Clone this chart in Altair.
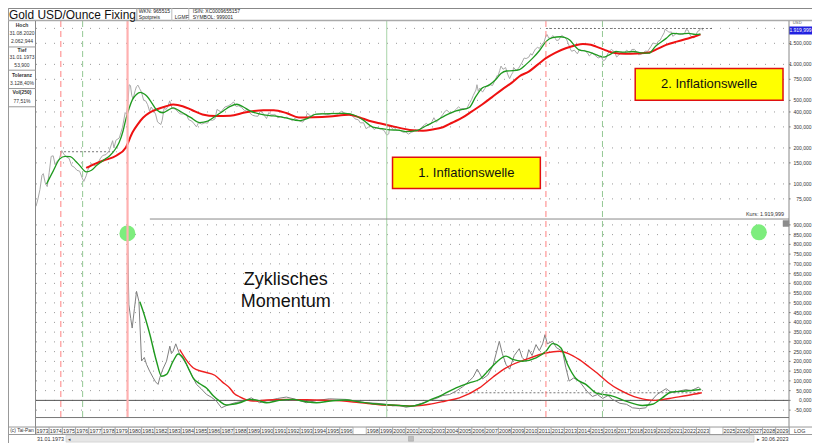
import math
import altair as alt
import pandas as pd

# ---------------- data ----------------
price_t = [1973.00, 1973.15, 1973.30, 1973.45, 1973.55, 1973.70, 1973.85, 1974.00, 1974.15, 1974.30, 1974.45, 1974.60, 1974.75, 1974.95,
           1975.10, 1975.30, 1975.50, 1975.70, 1975.90, 1976.10, 1976.30, 1976.50, 1976.62, 1976.80, 1976.95, 1977.20, 1977.45, 1977.65,
           1977.85, 1978.05, 1978.30, 1978.55, 1978.80, 1978.90, 1979.05, 1979.30, 1979.55, 1979.75, 1979.85, 1979.95, 1980.05, 1980.15,
           1980.25, 1980.35, 1980.50, 1980.60, 1980.72, 1980.85, 1980.98, 1981.15, 1981.30, 1981.45, 1981.60, 1981.72, 1981.90, 1982.05,
           1982.20, 1982.45, 1982.55, 1982.70, 1982.85, 1983.00, 1983.12, 1983.30, 1983.55, 1983.80, 1983.95, 1984.15, 1984.40, 1984.55,
           1984.80, 1984.95, 1985.15, 1985.30, 1985.55, 1985.80, 1985.98, 1986.15, 1986.35, 1986.55, 1986.70, 1986.85, 1987.00, 1987.30,
           1987.55, 1987.80, 1987.95, 1988.15, 1988.35, 1988.55, 1988.80, 1988.98, 1989.20, 1989.40, 1989.60, 1989.80, 1989.95, 1990.05,
           1990.30, 1990.45, 1990.62, 1990.80, 1990.98, 1991.05, 1991.30, 1991.55, 1991.80, 1991.98, 1992.20, 1992.40, 1992.55, 1992.80,
           1992.98, 1993.20, 1993.40, 1993.55, 1993.65, 1993.85, 1993.98, 1994.20, 1994.45, 1994.70, 1994.98, 1995.20, 1995.40, 1995.65,
           1995.85, 1996.05, 1996.12, 1996.35, 1996.55, 1996.80, 1996.98, 1997.15, 1997.40, 1997.55, 1997.80, 1997.98, 1998.15, 1998.35,
           1998.60, 1998.80, 1998.98, 1999.15, 1999.35, 1999.55, 1999.70, 1999.80, 1999.98, 2000.10, 2000.30, 2000.55, 2000.80, 2000.98,
           2001.20, 2001.40, 2001.60, 2001.72, 2001.98, 2002.15, 2002.40, 2002.55, 2002.70, 2002.90, 2002.98, 2003.12, 2003.30, 2003.55,
           2003.80, 2003.98, 2004.10, 2004.35, 2004.55, 2004.80, 2004.98, 2005.15, 2005.40, 2005.60, 2005.80, 2005.98, 2006.10, 2006.30,
           2006.38, 2006.48, 2006.60, 2006.80, 2006.98, 2007.15, 2007.35, 2007.55, 2007.80, 2007.90, 2007.98, 2008.10, 2008.20, 2008.35,
           2008.55, 2008.70, 2008.85, 2008.98, 2009.10, 2009.15, 2009.35, 2009.55, 2009.80, 2009.95, 2010.10, 2010.30, 2010.45, 2010.55,
           2010.80, 2010.98, 2011.10, 2011.30, 2011.45, 2011.62, 2011.70, 2011.80, 2011.98, 2012.12, 2012.30, 2012.40, 2012.55, 2012.80,
           2012.98, 2013.15, 2013.30, 2013.45, 2013.55, 2013.75, 2013.98, 2014.15, 2014.30, 2014.55, 2014.80, 2014.88, 2014.98, 2015.08,
           2015.30, 2015.55, 2015.80, 2015.95, 2016.10, 2016.30, 2016.55, 2016.80, 2016.95, 2017.10, 2017.30, 2017.55, 2017.70, 2017.85,
           2017.98, 2018.10, 2018.30, 2018.55, 2018.62, 2018.80, 2018.98, 2019.10, 2019.30, 2019.55, 2019.70, 2019.85, 2019.98, 2020.10,
           2020.25, 2020.35, 2020.55, 2020.62, 2020.80, 2020.90, 2020.98, 2021.10, 2021.20, 2021.35, 2021.45, 2021.55, 2021.70, 2021.85,
           2021.98, 2022.10, 2022.20, 2022.35, 2022.55, 2022.70, 2022.80, 2022.90, 2022.98, 2023.10, 2023.20, 2023.30, 2023.40, 2023.49]
price_v = [65, 75, 90, 118, 122, 102, 95, 125, 170, 172, 145, 155, 160, 190,
           178, 168, 164, 142, 138, 130, 128, 112, 105, 117, 133, 148, 142, 146,
           162, 173, 176, 190, 230, 200, 232, 242, 298, 395, 385, 460, 675, 665,
           550, 515, 600, 650, 670, 625, 590, 500, 495, 460, 405, 440, 410, 384,
           330, 314, 340, 430, 420, 450, 495, 430, 422, 394, 385, 385, 378, 345,
           335, 320, 300, 325, 317, 325, 322, 345, 340, 350, 420, 410, 400, 440,
           450, 466, 486, 445, 450, 436, 410, 418, 390, 375, 370, 368, 402, 410,
           372, 352, 395, 380, 378, 385, 357, 368, 357, 361, 350, 338, 353, 344,
           335, 329, 355, 392, 379, 367, 383, 380, 385, 389, 380, 382, 391, 386,
           383, 400, 405, 393, 383, 381, 369, 350, 344, 324, 325, 290, 298, 308,
           285, 296, 290, 287, 280, 256, 262, 311, 290, 300, 280, 282, 270, 272,
           261, 270, 275, 284, 276, 295, 312, 321, 310, 318, 333, 358, 328, 350,
           382, 407, 414, 390, 395, 420, 442, 425, 428, 424, 470, 510, 550, 610,
           676, 596, 633, 586, 629, 665, 679, 665, 754, 806, 803, 889, 968, 909,
           940, 829, 760, 816, 858, 943, 890, 934, 1043, 1130, 1118, 1149, 1232, 1193,
           1342, 1391, 1356, 1474, 1529, 1756, 1772, 1665, 1652, 1742, 1650, 1585, 1593, 1747,
           1688, 1630, 1487, 1342, 1286, 1316, 1225, 1336, 1299, 1311, 1222, 1176, 1200, 1251,
           1197, 1131, 1159, 1068, 1097, 1242, 1337, 1267, 1152, 1192, 1266, 1236, 1314, 1280,
           1265, 1331, 1335, 1239, 1202, 1215, 1250, 1291, 1285, 1413, 1510, 1495, 1480, 1560,
           1591, 1680, 1840, 1968, 1900, 1866, 1858, 1867, 1718, 1760, 1834, 1807, 1775, 1777,
           1790, 1817, 1948, 1937, 1732, 1681, 1665, 1726, 1798, 1898, 1912, 1999, 1992, 1920]

green_t = [1973.8, 1974.3, 1974.8, 1975.2, 1975.6, 1976.0, 1976.3, 1976.8, 1977.2, 1977.6, 1978.1, 1978.6, 1979.0, 1979.3,
           1979.6, 1979.8, 1980.05, 1980.3, 1980.6, 1980.9, 1981.2, 1981.4, 1981.8, 1982.1, 1982.6, 1983.0, 1983.4, 1983.8,
           1984.1, 1984.7, 1985.4, 1986.0, 1986.6, 1987.2, 1987.7, 1988.2, 1988.7, 1989.2, 1989.9, 1990.7, 1991.3, 1992.0,
           1992.9, 1993.6, 1994.2, 1995.3, 1996.4, 1997.2, 1997.8, 1998.5, 1999.2, 1999.8, 2000.4, 2001.0, 2001.8, 2002.5,
           2003.3, 2004.0, 2004.8, 2005.3, 2005.8, 2006.3, 2006.8, 2007.3, 2007.8, 2008.2, 2008.6, 2009.1, 2009.6, 2010.1,
           2010.6, 2011.1, 2011.6, 2012.1, 2012.7, 2013.0, 2013.4, 2013.8, 2014.1, 2014.6, 2015.1, 2015.6, 2016.0, 2016.5,
           2016.9, 2017.5, 2018.2, 2018.8, 2019.4, 2019.9, 2020.3, 2020.7, 2021.2, 2021.8, 2022.4, 2022.9, 2023.3]
green_v = [100, 128, 162, 170, 169, 155, 143, 126, 130, 143, 158, 173, 195, 223,
           280, 347, 430, 507, 560, 583, 565, 541, 470, 419, 394, 415, 433, 412,
           394, 360, 326, 335, 370, 410, 445, 464, 440, 409, 385, 372, 368, 355,
           338, 355, 384, 388, 389, 372, 340, 298, 290, 283, 282, 274, 279, 305,
           338, 375, 409, 420, 436, 540, 637, 670, 747, 840, 880, 885, 904, 1000,
           1127, 1300, 1549, 1670, 1703, 1680, 1600, 1420, 1323, 1290, 1240, 1180, 1149, 1220,
           1281, 1265, 1281, 1250, 1240, 1420, 1530, 1650, 1815, 1800, 1815, 1780, 1792]

red_t = [1976.8, 1977.5, 1978.1, 1979.1, 1979.8, 1980.3, 1980.7, 1981.1, 1981.6, 1982.1, 1982.8, 1983.4, 1984.1, 1984.8,
         1985.6, 1986.6, 1987.7, 1988.8, 1990.2, 1991.0, 1992.0, 1992.9, 1994.0, 1995.2, 1996.7, 1997.5, 1998.2, 1999.0,
         1999.8, 2000.6, 2001.3, 2002.3, 2003.0, 2003.8, 2004.5, 2005.3, 2006.0, 2006.8, 2007.5, 2008.3, 2009.0, 2009.6,
         2010.3, 2011.0, 2011.6, 2012.3, 2013.1, 2013.8, 2014.4, 2015.0, 2015.4, 2016.0, 2016.6, 2017.6, 2018.5, 2019.4,
         2020.0, 2020.7, 2021.5, 2022.2, 2022.8, 2023.3]
red_v = [136, 148, 157, 173, 202, 269, 315, 358, 395, 419, 445, 461, 447, 415,
         381, 370, 372, 395, 414, 414, 390, 360, 362, 367, 379, 360, 338, 322,
         307, 293, 283, 279, 285, 298, 325, 360, 405, 464, 530, 618, 700, 796,
         870, 1000, 1127, 1250, 1364, 1440, 1483, 1460, 1409, 1330, 1257, 1226, 1235, 1257,
         1340, 1455, 1550, 1631, 1700, 1781]

mom_gray_t = [1979.93, 1980.03, 1980.17, 1980.28, 1980.45, 1980.61, 1980.79, 1980.99, 1981.2, 1981.37, 1981.6, 1981.87, 1982.05,
              1982.24, 1982.37, 1982.6, 1982.88, 1983.13, 1983.25, 1983.38, 1983.58, 1983.88, 1984.1, 1984.39, 1984.7, 1985.15,
              1985.5, 1985.9, 1986.3, 1986.66, 1987.04, 1987.3, 1987.66, 1988.2, 1988.67, 1989.3, 1989.93, 1990.6, 1991.3,
              1991.95, 1992.7, 1993.46, 1994.3, 1995.2, 1996.48, 1997.2, 1997.99, 1998.8, 1999.5, 2000.0, 2000.51, 2001.0,
              2001.5, 2002.2, 2002.78, 2003.3, 2003.8, 2004.3, 2004.8, 2005.3, 2005.8, 2006.1, 2006.4, 2006.56, 2006.8, 2007.2,
              2007.6, 2008.07, 2008.3, 2008.58, 2008.85, 2009.2, 2009.58, 2009.8, 2010.09, 2010.3, 2010.55, 2010.85, 2011.1,
              2011.35, 2011.53, 2011.7, 2012.1, 2012.4, 2012.86, 2013.1, 2013.36, 2013.7, 2014.12, 2014.5, 2014.8, 2015.12,
              2015.5, 2015.9, 2016.3, 2016.64, 2017.2, 2017.7, 2018.15, 2018.7, 2019.16, 2019.6, 2020.0, 2020.41, 2020.7,
              2021.0, 2021.3, 2021.68, 2022.2, 2022.6, 2022.94, 2023.15, 2023.34]
mom_gray_v = [860, 490, 420, 371, 470, 559, 508, 202, 220, 184, 150, 116, 95,
              82, 116, 160, 201, 278, 240, 252, 290, 235, 215, 184, 140, 82,
              60, 31, 15, -4, -38, -30, -20, -10, -4, 13, -12, 0, 10,
              17, 5, -12, 0, 8, 5, -5, -12, -15, -20, -28, -26, -35,
              -30, -15, 0, 10, 25, 30, 48, 70, 100, 120, 160, 141, 110, 130,
              180, 303, 240, 184, 160, 230, 265, 220, 200, 260, 230, 286, 255,
              290, 337, 290, 303, 270, 252, 170, 99, 115, 99, 65, 40, 20,
              30, 10, 25, 5, -15, -20, -38, -42, -38, 0, 30, 48, 60,
              45, 40, 48, 55, 50, 61, 68, 55]

mom_green_t = [1980.86, 1981.11, 1981.62, 1982.12, 1982.5, 1982.88, 1983.38, 1983.76, 1984.13, 1984.5, 1984.89, 1985.4,
               1985.9, 1986.4, 1986.9, 1987.41, 1987.9, 1988.42, 1989.18, 1989.8, 1990.44, 1991.4, 1992.45, 1993.3, 1994.22,
               1995.3, 1996.48, 1997.5, 1998.5, 1999.5, 2000.5, 2001.3, 2002.1, 2002.78, 2003.8, 2004.8, 2005.8, 2006.56,
               2007.2, 2007.8, 2008.58, 2009.08, 2009.83, 2010.85, 2011.6, 2012.1, 2012.74, 2013.24, 2013.87, 2014.62,
               2015.38, 2015.88, 2016.64, 2017.65, 2018.9, 2019.66, 2020.41, 2021.05, 2022.18, 2023.32]
mom_green_v = [506, 457, 338, 201, 124, 133, 201, 238, 218, 170, 116, 85,
               64, 25, -4, -24, -20, -12, 5, 0, -12, 0, 5, -5, -12,
               -3, 2, -8, -17, -22, -26, -30, -20, 0, 30, 64, 90, 107,
               150, 192, 227, 210, 201, 218, 252, 291, 269, 184, 112, 82,
               39, 31, 22, -4, -26, -20, 13, 42, 48, 56]

mom_red_t = [1983.88, 1984.4, 1984.89, 1985.6, 1986.53, 1987.1, 1987.66, 1988.0, 1988.42, 1989.43, 1990.5, 1991.95, 1993.5,
             1995.47, 1997.0, 1997.99, 1999.0, 2000.51, 2001.5, 2002.78, 2004.0, 2005.05, 2006.56, 2007.6, 2008.58, 2010.09,
             2011.6, 2012.6, 2013.3, 2014.1, 2014.9, 2015.6, 2016.3, 2017.1, 2017.9, 2018.6, 2019.2, 2019.9, 2020.5, 2021.2,
             2022.3, 2023.4]
mom_red_v = [261, 205, 167, 148, 129, 95, 64, 35, 18, -4, 2, 5, 3,
             0, -8, -15, -22, -26, -28, -20, -3, 13, 64, 120, 167, 210,
             243, 252, 240, 210, 170, 133, 92, 56, 30, 13, 4, 0, 5, 13,
             25, 39]

# reference levels (dotted lines)
hi_t0 = [1974.82, 2011.6]
hi_t1 = [1979.1, 2024.2]
hi_v = [186, 1995]
mom_ref_t0 = [2004.6]
mom_ref_t1 = [2023.3]
mom_ref_v = [39]

# event markers
ev_red_dashed = [1974.88, 2011.6]
ev_green_dashed = [1976.53, 2015.88]
ev_red_solid = [1979.93]
ev_green_solid = [1999.55]

# green circles in the momentum panel
circ_t = [1979.92, 2027.72]
circ_v = [856, 862]

# axes
top_ticks = [75, 100, 150, 200, 300, 400, 500, 750, 1000, 1500]
top_labels = ["75,000", "100,000", "150,000", "200,000", "300,000", "400,000", "500,000", "750,000", "1.000,000", "1.500,000"]
top_grid = [75, 100, 150, 200, 300, 400, 500, 750, 1000, 1500, 2000]
last_price = [1920]
last_label = ["1.919,999"]
bot_ticks = [-50, 0, 50, 100, 150, 200, 250, 300, 350, 400, 450, 500, 550, 600, 650, 700, 750, 800, 850, 900]
bot_labels = ["-50,000", "0,000", "50,000", "100,000", "150,000", "200,000", "250,000", "300,000", "350,000", "400,000",
              "450,000", "500,000", "550,000", "600,000", "650,000", "700,000", "750,000", "800,000", "850,000", "900,000"]
year_cells = [1973, 1974, 1975, 1976, 1977, 1978, 1979, 1980, 1981, 1982, 1983, 1984, 1985, 1986, 1987, 1988, 1989, 1990,
              1991, 1992, 1993, 1994, 1995, 1996, 1998, 1999, 2000, 2001, 2002, 2003, 2004, 2005, 2006, 2007, 2008, 2009,
              2010, 2011, 2012, 2013, 2014, 2015, 2016, 2017, 2018, 2019, 2020, 2021, 2022, 2023, 2025, 2026, 2027, 2028, 2029]

info_texts = ["Hoch", "31.08.2020", "2.062,944", "Tief", "31.01.1973", "53,900", "Toleranz", "3.128,40%", "Vol(250)", "77,51%"]

# ---------------- layout helpers (reference pixels -> chart pixels) ----------------
W, H = 804, 435
SANS = "Liberation Sans, Arial, Helvetica, sans-serif"


def Y(r):
    if r <= 19:
        return round(r * 13 / 19, 2)
    if r <= 434:
        return round(13 + (r - 19) * 414 / 415, 2)
    return round(427 + (r - 434) * 8 / 9, 2)


def XM(r):
    if r <= 36:
        return round(r * 28 / 36, 2)
    if r <= 790:
        return round(28 + (r - 36) * 753 / 754, 2)
    return round(781 + (r - 790) * 23 / 30, 2)


PX0, PX1 = XM(36), XM(790)

xs = alt.Scale(domain=[1973, 2030], range=[PX0, PX1], nice=False, zero=False)


def top_ref(v):
    return 61 + (3 - math.log10(v)) * 121


ys_top = alt.Scale(type="log", domain=[50, 2500], range=[Y(top_ref(50)), Y(top_ref(2500))], nice=False)
ys_bot = alt.Scale(domain=[-100, 950], range=[Y(399.3 + 100 * 0.1955), Y(399.3 - 950 * 0.1955)], nice=False, zero=False)

dummy = pd.DataFrame({"d": [0]})


def hline(x1, x2, y, color="#888", w=1.0, dash=None):
    kw = dict(color=color, strokeWidth=w)
    if dash:
        kw["strokeDash"] = dash
    return alt.Chart(dummy).mark_rule(**kw).encode(x=alt.value(x1), x2=alt.value(x2), y=alt.value(y))


def vline(x, y1, y2, color="#888", w=1.0, dash=None):
    kw = dict(color=color, strokeWidth=w)
    if dash:
        kw["strokeDash"] = dash
    return alt.Chart(dummy).mark_rule(**kw).encode(x=alt.value(x), y=alt.value(y1), y2=alt.value(y2))


def box(x1, x2, y1, y2, fill="white", stroke="#888", w=1.0):
    return alt.Chart(dummy).mark_rect(fill=fill, stroke=stroke, strokeWidth=w).encode(
        x=alt.value(x1), x2=alt.value(x2), y=alt.value(y1), y2=alt.value(y2))


def txt(s, x, y, size=5.6, align="left", weight="normal", color="#222"):
    return alt.Chart(dummy).mark_text(text=s, fontSize=size, align=align, baseline="middle", font=SANS,
                                      fontWeight=weight, color=color).encode(x=alt.value(x), y=alt.value(y))


# ---------------- data frames ----------------
df_price = pd.DataFrame({"t": price_t, "v": price_v})
df_green = pd.DataFrame({"t": green_t, "v": green_v})
df_red = pd.DataFrame({"t": red_t, "v": red_v})
df_mg = pd.DataFrame({"t": mom_gray_t, "v": mom_gray_v})
df_mgr = pd.DataFrame({"t": mom_green_t, "v": mom_green_v})
df_mr = pd.DataFrame({"t": mom_red_t, "v": mom_red_v})
df_hi = pd.DataFrame({"t0": hi_t0, "t1": hi_t1, "v": hi_v})
df_mref = pd.DataFrame({"t0": mom_ref_t0, "t1": mom_ref_t1, "v": mom_ref_v})
df_circ = pd.DataFrame({"t": circ_t, "v": circ_v})
df_ttick = pd.DataFrame({"v": top_ticks, "label": top_labels})
df_tgrid = pd.DataFrame({"v": top_grid})
df_last = pd.DataFrame({"v": last_price, "label": last_label})
df_btick = pd.DataFrame({"v": bot_ticks, "label": bot_labels})
df_years = pd.DataFrame({"start": year_cells, "label": [str(y) for y in year_cells]})
df_years["end"] = df_years["start"] + 1
df_years["mid"] = df_years["start"] + 0.5

X = lambda f: alt.X(f, scale=xs, axis=None)
YT = lambda f: alt.Y(f, scale=ys_top, axis=None)
YB = lambda f: alt.Y(f, scale=ys_bot, axis=None)
LABEL_X = 803.5
LFS = 5.0

# ---------------- top panel ----------------
top_layers = [
    alt.Chart(df_tgrid).mark_rule(color="#9a9a9a", strokeWidth=1, strokeDash=[1, 8]).encode(
        y=YT("v:Q"), x=alt.value(PX0), x2=alt.value(PX1)),
    alt.Chart(df_ttick).mark_rule(color="#666", strokeWidth=1).encode(y=YT("v:Q"), x=alt.value(PX1), x2=alt.value(PX1 + 1.5)),
    alt.Chart(df_ttick).mark_text(align="right", baseline="middle", fontSize=LFS, font=SANS, color="#333").encode(
        y=YT("v:Q"), x=alt.value(LABEL_X), text="label:N"),
    alt.Chart(df_hi).mark_rule(color="#555", strokeWidth=0.8, strokeDash=[2, 2]).encode(x=X("t0:Q"), x2="t1:Q", y=YT("v:Q")),
    alt.Chart(df_price).mark_line(color="#a9a9a9", strokeWidth=1).encode(x=X("t:Q"), y=YT("v:Q")),
    alt.Chart(df_red).mark_line(color="#ee1111", strokeWidth=2, interpolate="monotone").encode(x=X("t:Q"), y=YT("v:Q")),
    alt.Chart(df_green).mark_line(color="#1f9a1f", strokeWidth=1.3, interpolate="monotone").encode(x=X("t:Q"), y=YT("v:Q")),
    alt.Chart(df_last).mark_tick(orient="horizontal", thickness=8, size=23, color="#2020e0", opacity=1).encode(
        y=YT("v:Q"), x=alt.value(792.5)),
    alt.Chart(df_last).mark_text(align="center", baseline="middle", fontSize=LFS, font=SANS, color="white").encode(
        y=YT("v:Q"), x=alt.value(792.5), text="label:N"),
]
top = alt.layer(*top_layers)

# ---------------- momentum panel ----------------
bot_layers = [
    alt.Chart(df_btick).mark_rule(color="#9a9a9a", strokeWidth=1, strokeDash=[1, 8]).encode(
        y=YB("v:Q"), x=alt.value(PX0), x2=alt.value(PX1)),
    alt.Chart(df_btick).mark_rule(color="#666", strokeWidth=1).encode(y=YB("v:Q"), x=alt.value(PX1), x2=alt.value(PX1 + 1.5)),
    alt.Chart(df_btick).mark_text(align="right", baseline="middle", fontSize=LFS, font=SANS, color="#333").encode(
        y=YB("v:Q"), x=alt.value(LABEL_X), text="label:N"),
    alt.Chart(pd.DataFrame({"v": [0]})).mark_rule(color="#555", strokeWidth=1).encode(
        y=YB("v:Q"), x=alt.value(PX0), x2=alt.value(PX1)),
    alt.Chart(df_mref).mark_rule(color="#555", strokeWidth=0.8, strokeDash=[2, 2]).encode(x=X("t0:Q"), x2="t1:Q", y=YB("v:Q")),
    alt.Chart(df_mg).mark_line(color="#808080", strokeWidth=1).encode(x=X("t:Q"), y=YB("v:Q")),
    alt.Chart(df_mr).mark_line(color="#ee2020", strokeWidth=1.4, interpolate="monotone").encode(x=X("t:Q"), y=YB("v:Q")),
    alt.Chart(df_mgr).mark_line(color="#1f9a1f", strokeWidth=1.4, interpolate="monotone").encode(x=X("t:Q"), y=YB("v:Q")),
    alt.Chart(df_circ).mark_circle(size=255, color="#7ded7d", opacity=1).encode(x=X("t:Q"), y=YB("v:Q")),
]
bot = alt.layer(*bot_layers)

# ---------------- event lines, frame, header, annotations ----------------
EV_Y1, EV_Y2 = Y(19), Y(416)
deco = []
for t in ev_red_solid:
    deco.append(alt.Chart(pd.DataFrame({"t": [t]})).mark_rule(color="#ffb0b0", strokeWidth=2.2).encode(
        x=X("t:Q"), y=alt.value(EV_Y1), y2=alt.value(EV_Y2)))
for t in ev_green_solid:
    deco.append(alt.Chart(pd.DataFrame({"t": [t]})).mark_rule(color="#a8d4a8", strokeWidth=1).encode(
        x=X("t:Q"), y=alt.value(EV_Y1), y2=alt.value(EV_Y2)))
for t in ev_red_dashed:
    deco.append(alt.Chart(pd.DataFrame({"t": [t]})).mark_rule(color="#ff8080", strokeWidth=1, strokeDash=[6, 4]).encode(
        x=X("t:Q"), y=alt.value(EV_Y1), y2=alt.value(EV_Y2)))
for t in ev_green_dashed:
    deco.append(alt.Chart(pd.DataFrame({"t": [t]})).mark_rule(color="#94c894", strokeWidth=1, strokeDash=[6, 4]).encode(
        x=X("t:Q"), y=alt.value(EV_Y1), y2=alt.value(EV_Y2)))

frame = [
    # outer + header
    hline(0, W, 0.5, "#888", 1),
    vline(0.5, 0, H, "#999", 1),
    hline(0, W, Y(19) - 0.5, "#aaa", 1.6),
    vline(XM(137), 0, Y(19), "#999", 1),
    vline(XM(172), 0, Y(19), "#bbb", 1),
    vline(XM(189), 0, Y(19), "#bbb", 1),
    txt("Gold USD/Ounce Fixing", XM(137) / 2, Y(9.8), size=11.9, align="center", color="#111"),
    txt("WKN: 965515", XM(139), Y(4.8), size=5),
    txt("Spotpreis", XM(139), Y(13.6), size=5),
    txt("LGMF", XM(175), Y(13.6), size=5),
    txt("ISIN: XC0009655157", XM(193), Y(4.8), size=5),
    txt("SYMBOL: 999001", XM(193), Y(13.6), size=5),
    # plot frame
    vline(PX0 - 0.5, Y(19), Y(433.5), "#888", 1),
    vline(PX1, Y(19), Y(433.5), "#888", 1),
    hline(XM(150), PX1, Y(217.5), "#8a8a8a", 1),
    hline(PX0, PX1, Y(416.5), "#777", 1),
    hline(0, W, Y(426), "#999", 1),
    hline(0, W, Y(433.5), "#999", 1),
    box(XM(784), PX1, Y(219), Y(225), fill="#8c8c8c", stroke="#8c8c8c", w=0.5),
    txt("Kurs: 1.919,999", XM(785), Y(212), size=5.4, align="right", color="#333"),
    txt("USD", XM(795), Y(21.5), size=4.2, color="#555"),
    # info panel
    hline(0, PX0, Y(45), "#999", 1),
    hline(0, PX0, Y(68.3), "#999", 1),
    hline(0, PX0, Y(86.7), "#999", 1),
    hline(0, PX0, Y(105), "#999", 1),
    txt("(c) Tai-Pan", PX0 / 2, Y(429.7), size=4.9, align="center", color="#333"),
    # bottom strip
    txt("31.01.1973", XM(37), Y(438.5), size=5.4, color="#333"),
    box(XM(66), XM(755), Y(434.5), Y(442), fill="#e6e6e6", stroke="#c8c8c8", w=0.6),
    box(XM(409), XM(414), Y(435.5), Y(441), fill="#bdbdbd", stroke="#a0a0a0", w=0.5),
    txt("\u25c2", XM(68), Y(438.5), size=5.4, color="#555"),
    txt("\u25b8 30.06.2023", XM(758), Y(438.5), size=5.4, color="#333"),
    txt("LOG", XM(804), Y(429.7), size=5.4, align="center", color="#333"),
    # annotations
    box(XM(393), XM(541), Y(155.5), Y(187), fill="#ffff00", stroke="#e01010", w=1.5),
    txt("1. Inflationswelle", XM(467), Y(171.5), size=13, align="center", color="#111"),
    box(XM(636), XM(784), Y(66.5), Y(98.5), fill="#ffff00", stroke="#e01010", w=1.5),
    txt("2. Inflationswelle", XM(710), Y(82.5), size=13, align="center", color="#111"),
    txt("Zyklisches", XM(286), Y(279), size=18, align="center", color="#111"),
    txt("Momentum", XM(286), Y(301), size=18, align="center", color="#111"),
]
info_y = [22.7, 31.2, 39.0, 47.7, 55.5, 63.4, 72.7, 81.3, 90.0, 98.7]
info_bold = [True, False, False, True, False, False, True, False, True, False]
for s, yy, b in zip(info_texts, info_y, info_bold):
    frame.append(txt(s, PX0 / 2, Y(yy), size=5.0, align="center", weight="bold" if b else "normal", color="#333"))

years_layers = [
    alt.Chart(df_years).mark_rect(fill="white", stroke="#8a8a8a", strokeWidth=0.6).encode(
        x=X("start:Q"), x2="end:Q", y=alt.value(Y(426.3)), y2=alt.value(Y(433.2))),
    alt.Chart(df_years).mark_text(fontSize=5.4, font=SANS, baseline="middle", align="center", color="#333").encode(
        x=X("mid:Q"), y=alt.value(Y(429.8)), text="label:N"),
]

deco_layer = alt.layer(*(deco + frame + years_layers))

chart = alt.layer(top, bot, deco_layer).resolve_scale(y="independent").properties(
    width=W, height=H, autosize=alt.AutoSizeParams(type="none"), padding=0, background="white"
).configure_view(stroke=None)

chart.save("out.html", embed_options={"renderer": "svg", "actions": False})
